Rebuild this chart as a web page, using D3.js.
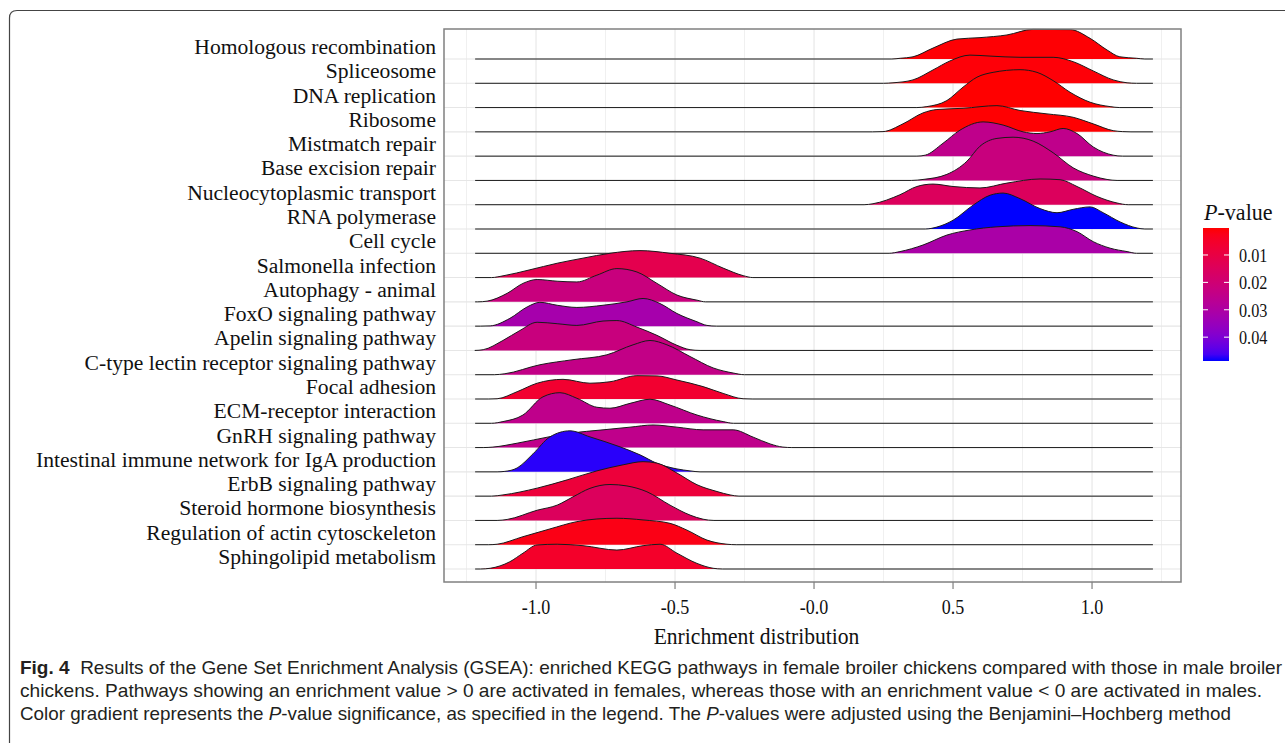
<!DOCTYPE html>
<html>
<head>
<meta charset="utf-8">
<script src="https://cdn.jsdelivr.net/npm/d3@7"></script>
<style>
  html, body { margin: 0; padding: 0; background: #fff; }
  svg { display: block; }
</style>
</head>
<body>
<svg id="chart" width="1285" height="743"></svg>
<script>
// ---------------- DATA ----------------
const pathways = [
  "Homologous recombination", "Spliceosome", "DNA replication", "Ribosome",
  "Mistmatch repair", "Base excision repair", "Nucleocytoplasmic transport",
  "RNA polymerase", "Cell cycle", "Salmonella infection", "Autophagy - animal",
  "FoxO signaling pathway", "Apelin signaling pathway",
  "C-type lectin receptor signaling pathway", "Focal adhesion",
  "ECM-receptor interaction", "GnRH signaling pathway",
  "Intestinal immune network for IgA production", "ErbB signaling pathway",
  "Steroid hormone biosynthesis", "Regulation of actin cytosckeleton",
  "Sphingolipid metabolism"
];

const pValues = [
  0.0005, 0.0008, 0.00015, 0.0003,
  0.025, 0.022, 0.015,
  0.0487, 0.031, 0.012, 0.022,
  0.032, 0.022,
  0.024, 0.006,
  0.025, 0.025,
  0.0478, 0.008,
  0.015, 0.002,
  0.005
];

// density profile per pathway: [enrichment value, scaled density]
const densities = [
  [[0.28,0],[0.31,0.03],[0.356,0.09],[0.428,0.45],[0.514,0.82],[0.597,0.88],[0.694,0.99],[0.788,1.22],[0.921,1.21],[0.993,0.85],[1.054,0.37],[1.10,0.09],[1.16,0.03],[1.19,0]],
  [[0.25,0],[0.284,0.02],[0.356,0.14],[0.428,0.55],[0.489,0.92],[0.561,1.16],[0.633,1.12],[0.741,1.07],[0.86,1.07],[0.932,0.89],[1.004,0.51],[1.076,0.14],[1.126,0.02],[1.16,0]],
  [[0.37,0],[0.406,0.04],[0.478,0.29],[0.536,0.84],[0.586,1.25],[0.644,1.45],[0.741,1.56],[0.802,1.45],[0.86,1.11],[0.921,0.63],[0.993,0.22],[1.065,0.04],[1.10,0]],
  [[0.21,0],[0.248,0.01],[0.32,0.33],[0.392,0.78],[0.442,0.92],[0.536,0.97],[0.658,1.08],[0.741,0.88],[0.838,0.74],[0.932,0.60],[1.004,0.33],[1.076,0.05],[1.11,0.01],[1.14,0]],
  [[0.37,0],[0.40,0.04],[0.464,0.53],[0.525,1.07],[0.608,1.41],[0.68,1.28],[0.752,1.0],[0.802,0.93],[0.849,1.0],[0.896,1.14],[0.946,0.93],[1.004,0.38],[1.076,0.04],[1.11,0]],
  [[0.35,0],[0.392,0.04],[0.478,0.25],[0.55,0.79],[0.597,1.41],[0.658,1.73],[0.716,1.78],[0.788,1.62],[0.86,1.14],[0.932,0.52],[1.004,0.18],[1.054,0.04],[1.09,0]],
  [[0.18,0],[0.212,0.04],[0.309,0.41],[0.37,0.75],[0.428,0.85],[0.5,0.75],[0.597,0.69],[0.694,0.89],[0.813,1.06],[0.885,1.03],[0.946,0.75],[1.018,0.34],[1.09,0.07],[1.13,0]],
  [[0.40,0],[0.442,0.08],[0.5,0.36],[0.572,0.98],[0.633,1.39],[0.68,1.48],[0.741,1.25],[0.813,0.84],[0.874,0.67],[0.932,0.81],[0.993,0.91],[1.04,0.67],[1.101,0.29],[1.162,0.04],[1.19,0]],
  [[0.27,0],[0.309,0.07],[0.392,0.34],[0.478,0.75],[0.561,0.96],[0.658,1.09],[0.777,1.14],[0.885,1.09],[0.946,0.89],[1.004,0.48],[1.065,0.21],[1.126,0.07],[1.16,0]],
  [[-1.16,0],[-1.119,0.07],[-1.022,0.32],[-0.924,0.59],[-0.831,0.80],[-0.734,1.0],[-0.626,1.11],[-0.518,1.0],[-0.41,0.80],[-0.327,0.39],[-0.255,0.08],[-0.22,0]],
  [[-1.21,0],[-1.176,0.03],[-1.104,0.35],[-1.047,0.76],[-0.996,0.92],[-0.924,0.85],[-0.853,0.82],[-0.781,1.10],[-0.709,1.37],[-0.637,1.23],[-0.565,0.76],[-0.493,0.28],[-0.421,0.07],[-0.39,0]],
  [[-1.20,0],[-1.165,0.01],[-1.094,0.32],[-1.032,0.79],[-0.986,0.98],[-0.924,0.86],[-0.853,0.77],[-0.759,0.86],[-0.673,1.0],[-0.615,1.14],[-0.554,0.93],[-0.493,0.52],[-0.421,0.18],[-0.385,0.03],[-0.35,0]],
  [[-1.22,0],[-1.19,0.03],[-1.119,0.41],[-1.058,0.82],[-0.996,1.16],[-0.924,1.10],[-0.853,1.03],[-0.759,1.21],[-0.709,1.23],[-0.637,0.96],[-0.565,0.62],[-0.493,0.21],[-0.446,0.03],[-0.41,0]],
  [[-1.15,0],[-1.112,0.04],[-0.986,0.41],[-0.867,0.62],[-0.745,0.82],[-0.651,1.23],[-0.59,1.41],[-0.529,1.23],[-0.446,0.75],[-0.363,0.28],[-0.291,0.07],[-0.25,0]],
  [[-1.17,0],[-1.14,0.01],[-1.068,0.30],[-0.996,0.65],[-0.903,0.81],[-0.806,0.65],[-0.734,0.71],[-0.637,0.96],[-0.565,0.95],[-0.493,0.78],[-0.399,0.51],[-0.327,0.23],[-0.255,0.01],[-0.22,0]],
  [[-1.16,0],[-1.119,0.07],[-1.047,0.34],[-0.975,1.09],[-0.914,1.26],[-0.853,1.03],[-0.781,0.66],[-0.734,0.62],[-0.662,0.82],[-0.59,0.99],[-0.518,0.75],[-0.421,0.34],[-0.327,0.07],[-0.29,0]],
  [[-1.19,0],[-1.155,0.02],[-1.068,0.18],[-0.95,0.45],[-0.878,0.59],[-0.759,0.73],[-0.662,0.84],[-0.579,0.93],[-0.493,0.84],[-0.399,0.73],[-0.291,0.73],[-0.219,0.43],[-0.158,0.15],[-0.112,0.02],[-0.08,0]],
  [[-1.14,0],[-1.112,0.02],[-1.068,0.16],[-1.011,0.74],[-0.95,1.44],[-0.878,1.69],[-0.806,1.44],[-0.698,1.03],[-0.626,0.70],[-0.565,0.35],[-0.493,0.12],[-0.446,0.04],[-0.41,0]],
  [[-1.16,0],[-1.119,0.05],[-0.996,0.33],[-0.888,0.67],[-0.781,1.04],[-0.687,1.29],[-0.615,1.42],[-0.565,1.36],[-0.493,0.95],[-0.421,0.47],[-0.349,0.19],[-0.302,0.05],[-0.27,0]],
  [[-1.14,0],[-1.104,0.04],[-0.996,0.42],[-0.924,0.63],[-0.867,0.97],[-0.806,1.32],[-0.734,1.48],[-0.673,1.42],[-0.601,1.18],[-0.518,0.63],[-0.446,0.22],[-0.399,0.05],[-0.36,0]],
  [[-1.17,0],[-1.14,0.02],[-1.047,0.33],[-0.95,0.65],[-0.853,0.95],[-0.781,1.06],[-0.709,1.09],[-0.615,1.02],[-0.518,0.88],[-0.457,0.60],[-0.385,0.19],[-0.313,0.02],[-0.28,0]],
  [[-1.20,0],[-1.165,0.03],[-1.094,0.30],[-1.047,0.65],[-0.996,0.99],[-0.924,1.02],[-0.831,0.96],[-0.709,0.78],[-0.615,0.96],[-0.554,1.02],[-0.493,0.65],[-0.421,0.23],[-0.363,0.03],[-0.33,0]]
];

const dataRange = [-1.219, 1.219];               // overall range of enrichment values
const xTicks = [-1.0, -0.5, 0.0, 0.5, 1.0];
const xTickLabels = ["-1.0", "-0.5", "-0.0", "0.5", "1.0"];
const xMinorTicks = [-1.25, -0.75, -0.25, 0.25, 0.75, 1.25];
const legendTicks = [0.01, 0.02, 0.03, 0.04];
const legendTickLabels = ["0.01", "0.02", "0.03", "0.04"];

const captionLines = [
  [{t:"Fig. 4", b:true}, {t:"  Results of the Gene Set Enrichment Analysis (GSEA): enriched KEGG pathways in female broiler chickens compared with those in male broiler"}],
  [{t:"chickens. Pathways showing an enrichment value > 0 are activated in females, whereas those with an enrichment value < 0 are activated in males."}],
  [{t:"Color gradient represents the "}, {t:"P", i:true}, {t:"-value significance, as specified in the legend. The "}, {t:"P", i:true}, {t:"-values were adjusted using the Benjamini–Hochberg method"}]
];

// ---------------- LAYOUT ----------------
const svg = d3.select("#chart");
const panel = {left: 444, top: 29, width: 737, height: 553};
const serif = "'Liberation Serif','Times New Roman',serif";
const sans = "'Liberation Sans',Arial,sans-serif";

// outer figure frame
svg.append("path")
  .attr("d", "M9.5,743 L9.5,18 Q9.5,10.5 17,10.5 L1285,10.5")
  .attr("fill", "none").attr("stroke", "#444").attr("stroke-width", 1.2);

const x = d3.scaleLinear().domain([-1.331, 1.320]).range([0, panel.width]);
const y = d3.scalePoint().domain(pathways).range([30, 540]);
const step = y.step();
const h = d3.scaleLinear().domain([0, 1]).range([0, step]);

const pMin = d3.min(pValues), pMax = d3.max(pValues);
const colorInterp = d3.interpolateLab("#ff0000", "#0000ff");
const color = d3.scaleSequential(colorInterp).domain([pMin, pMax]);

const g = svg.append("g").attr("transform", `translate(${panel.left},${panel.top})`);

// grid lines
g.selectAll("line.vminor").data(xMinorTicks).join("line")
  .attr("x1", d => x(d)).attr("x2", d => x(d)).attr("y1", 0).attr("y2", panel.height)
  .attr("stroke", "#f0f0f0").attr("stroke-width", 1);
g.selectAll("line.vmajor").data(xTicks).join("line")
  .attr("x1", d => x(d)).attr("x2", d => x(d)).attr("y1", 0).attr("y2", panel.height)
  .attr("stroke", "#e6e6e6").attr("stroke-width", 1.1);
g.selectAll("line.hgrid").data(pathways).join("line")
  .attr("x1", 0).attr("x2", panel.width).attr("y1", d => y(d)).attr("y2", d => y(d))
  .attr("stroke", "#e6e6e6").attr("stroke-width", 1.1);

// ridges (top row first so lower ridges overlap upper ones)
const area = d3.area().curve(d3.curveMonotoneX)
  .x(d => x(d[0]));
const line = d3.line().curve(d3.curveMonotoneX)
  .x(d => x(d[0]));

pathways.forEach((name, i) => {
  const base = y(name);
  const pts = [[dataRange[0], 0], ...densities[i], [dataRange[1], 0]];
  g.append("path")
    .datum(pts)
    .attr("d", area.y0(base).y1(d => base - h(d[1])))
    .attr("fill", color(pValues[i]));
  g.append("path")
    .datum(pts)
    .attr("d", line.y(d => base - h(d[1])))
    .attr("fill", "none").attr("stroke", "#1a1a1a").attr("stroke-width", 1);
});

// panel border
g.append("rect").attr("x", 0).attr("y", 0).attr("width", panel.width).attr("height", panel.height)
  .attr("fill", "none").attr("stroke", "#808080").attr("stroke-width", 1.5);

// y labels
pathways.forEach(name => {
  svg.append("text")
    .attr("x", 436).attr("y", panel.top + y(name) - 5)
    .attr("text-anchor", "end")
    .attr("font-family", serif).attr("font-size", 21.6).attr("fill", "#111")
    .text(name);
});

// x axis ticks
const axisG = svg.append("g").attr("transform", `translate(${panel.left},${panel.top + panel.height})`);
axisG.selectAll("line.tick").data(xTicks).join("line")
  .attr("x1", d => x(d)).attr("x2", d => x(d)).attr("y1", 0).attr("y2", 7)
  .attr("stroke", "#808080").attr("stroke-width", 1.2);
axisG.selectAll("text.tick").data(xTicks).join("text")
  .attr("transform", d => `translate(${x(d)},32) scale(0.9,1)`)
  .attr("text-anchor", "middle")
  .attr("font-family", serif).attr("font-size", 20).attr("fill", "#111")
  .text((d, i) => xTickLabels[i]);

svg.append("text")
  .attr("transform", `translate(${panel.left + panel.width / 2 - 56},644) scale(0.9,1)`)
  .attr("text-anchor", "middle")
  .attr("font-family", serif).attr("font-size", 24).attr("fill", "#111")
  .text("Enrichment distribution");

// legend
const lg = {x: 1203, y: 228, w: 26, h: 133};
const defs = svg.append("defs");
const grad = defs.append("linearGradient").attr("id", "pgrad")
  .attr("x1", 0).attr("x2", 0).attr("y1", 0).attr("y2", 1);
d3.range(0, 1.0001, 0.05).forEach(t => {
  grad.append("stop").attr("offset", t).attr("stop-color", colorInterp(t));
});
svg.append("rect").attr("x", lg.x).attr("y", lg.y).attr("width", lg.w).attr("height", lg.h)
  .attr("fill", "url(#pgrad)");
const ly = d3.scaleLinear().domain([pMin, pMax]).range([lg.y, lg.y + lg.h]);
legendTicks.forEach((t, i) => {
  svg.append("line").attr("x1", lg.x).attr("x2", lg.x + 5).attr("y1", ly(t)).attr("y2", ly(t))
    .attr("stroke", "#fff").attr("stroke-width", 1);
  svg.append("line").attr("x1", lg.x + lg.w - 5).attr("x2", lg.x + lg.w).attr("y1", ly(t)).attr("y2", ly(t))
    .attr("stroke", "#fff").attr("stroke-width", 1);
  svg.append("text")
    .attr("transform", `translate(1239,${ly(t) + 7}) scale(0.9,1)`)
    .attr("font-family", serif).attr("font-size", 18).attr("fill", "#111")
    .text(legendTickLabels[i]);
});
const lt = svg.append("text")
  .attr("transform", `translate(1204,220) scale(0.92,1)`)
  .attr("font-family", serif).attr("font-size", 24).attr("fill", "#111");
lt.append("tspan").attr("font-style", "italic").text("P");
lt.append("tspan").text("-value");

// caption
const capY = [674, 697, 720];
const capW = [1262, 1242, 1211];
captionLines.forEach((parts, i) => {
  const t = svg.append("text")
    .attr("x", 20).attr("y", capY[i])
    .attr("font-family", sans).attr("font-size", 18.5).attr("fill", "#231f20")
    .attr("textLength", capW[i]).attr("lengthAdjust", "spacingAndGlyphs")
    .style("white-space", "pre");
  parts.forEach(p => {
    const s = t.append("tspan").text(p.t);
    if (p.b) s.attr("font-weight", "bold");
    if (p.i) s.attr("font-style", "italic");
  });
});
</script>
</body>
</html>
